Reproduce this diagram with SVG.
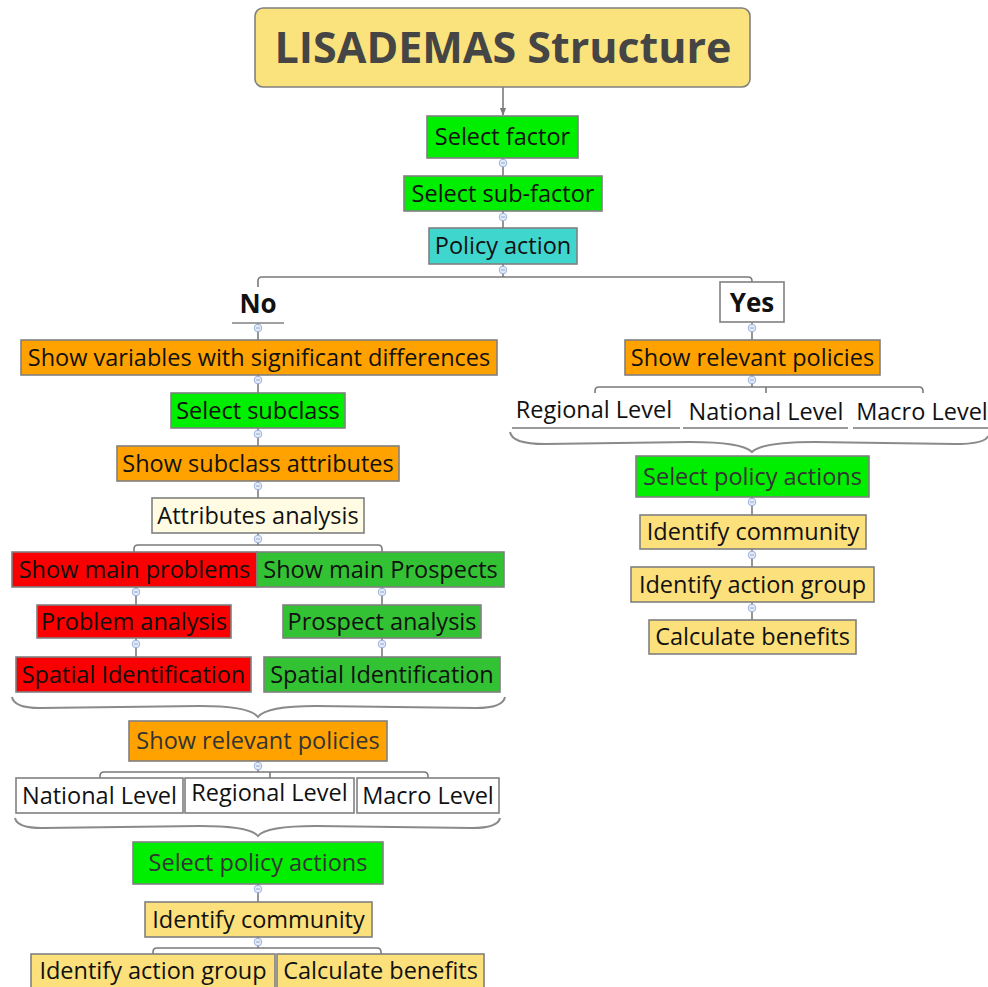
<svg xmlns="http://www.w3.org/2000/svg" xmlns:xlink="http://www.w3.org/1999/xlink" width="988" height="987" viewBox="0 0 988 987">
<defs>
<style>
.b{stroke:#808080;stroke-width:1.6}
.t{font-family:"Open Sans","Noto Sans","DejaVu Sans",sans-serif;font-size:23.5px;fill:#111;text-anchor:middle}
.bold{font-weight:bold;font-size:26px}
.c{fill:none;stroke:#7a7a7a;stroke-width:1.6}
.br{fill:none;stroke:#8a8a8a;stroke-width:2}
.g1{fill:#00EE00}.or{fill:#FFA200}.cy{fill:#3FD6CE}.rd{fill:#FA0000}.g2{fill:#33C233}.ye{fill:#FBE07B}.cr{fill:#FFFCE3}.wh{fill:#fff}
</style>
<marker id="arr" viewBox="0 0 10 10" refX="9" refY="5" markerWidth="8" markerHeight="10" markerUnits="userSpaceOnUse" orient="auto"><path d="M0,1 L10,5 L0,9 z" fill="#7a7a7a"/></marker>
<symbol id="knob" viewBox="-5 -5 10 10" overflow="visible"><circle r="3.8" fill="#e3ebf8" stroke="#9bb2dc" stroke-width="1"/><line x1="-2" y1="0" x2="2" y2="0" stroke="#7d94c4" stroke-width="0.8"/></symbol>
</defs>
<rect width="988" height="987" fill="#fff"/>

<g id="connectors">
<line class="c" x1="503" y1="87" x2="503" y2="115" marker-end="url(#arr)"/>
<line class="c" x1="503" y1="158" x2="503" y2="176"/>
<line class="c" x1="503" y1="211" x2="503" y2="228"/>
<path class="c" d="M503,264 V277 M258,287 V281 Q258,277 262,277 H748 Q752,277 752,281 V282"/>
<line class="c" x1="258" y1="323" x2="258" y2="340"/>
<line class="c" x1="752" y1="322" x2="752" y2="340"/>
<line class="c" x1="258" y1="375" x2="258" y2="393"/>
<line class="c" x1="258" y1="428" x2="258" y2="446"/>
<line class="c" x1="258" y1="481" x2="258" y2="498"/>
<path class="c" d="M258,533 V545 M134,552 V549 Q134,545 138,545 H378 Q382,545 382,549 V552"/>
<line class="c" x1="136" y1="587" x2="136" y2="605"/>
<line class="c" x1="382" y1="587" x2="382" y2="605"/>
<line class="c" x1="136" y1="638" x2="136" y2="657"/>
<line class="c" x1="382" y1="638" x2="382" y2="657"/>
<path class="br" d="M12,697 Q14,708 40,708 L200,706 Q250,706 258,717 Q266,706 316,706 L476,708 Q503,708 505,697"/>
<path class="c" d="M258,761 V772 M100,778 V776 Q100,772 104,772 H424 Q428,772 428,776 V778 M270,772 V778"/>
<path class="br" d="M15,818 Q17,828 42,828 L200,826 Q250,826 258,836 Q266,826 316,826 L472,828 Q498,828 500,818"/>
<line class="c" x1="258" y1="884" x2="258" y2="902"/>
<path class="c" d="M258,937 V948 M153,954 V952 Q153,948 157,948 H377 Q381,948 381,952 V954"/>
<path class="c" d="M752,375 V387 M595,393 V391 Q595,387 599,387 H919 Q923,387 923,391 V393 M766,387 V393"/>
<path class="c" d="M512,428 H680 M683,428 H848 M853,428 H988"/>
<path class="br" d="M510,432 Q512,444 545,444 L690,442 Q742,442 752,452 Q762,442 814,442 L955,444 Q985,444 988,436"/>
<line class="c" x1="752" y1="497" x2="752" y2="515"/>
<line class="c" x1="752" y1="549" x2="752" y2="567"/>
<line class="c" x1="752" y1="602" x2="752" y2="620"/>
<use href="#knob" x="498" y="158" width="10" height="10"/>
<use href="#knob" x="498" y="212" width="10" height="10"/>
<use href="#knob" x="498" y="265" width="10" height="10"/>
<use href="#knob" x="253" y="323" width="10" height="10"/>
<use href="#knob" x="747" y="323" width="10" height="10"/>
<use href="#knob" x="253" y="375" width="10" height="10"/>
<use href="#knob" x="253" y="429" width="10" height="10"/>
<use href="#knob" x="253" y="481" width="10" height="10"/>
<use href="#knob" x="253" y="534" width="10" height="10"/>
<use href="#knob" x="131" y="587" width="10" height="10"/>
<use href="#knob" x="377" y="587" width="10" height="10"/>
<use href="#knob" x="131" y="639" width="10" height="10"/>
<use href="#knob" x="377" y="639" width="10" height="10"/>
<use href="#knob" x="253" y="761" width="10" height="10"/>
<use href="#knob" x="253" y="884" width="10" height="10"/>
<use href="#knob" x="253" y="937" width="10" height="10"/>
<use href="#knob" x="747" y="375" width="10" height="10"/>
<use href="#knob" x="747" y="497" width="10" height="10"/>
<use href="#knob" x="747" y="550" width="10" height="10"/>
<use href="#knob" x="747" y="603" width="10" height="10"/>
</g>

<g id="title"><rect class="b" x="255" y="8" width="495" height="79" rx="8" fill="#FAE27C" stroke-width="2"/><text x="503" y="63" style="font-family:'Open Sans','Noto Sans',sans-serif;font-weight:bold;font-size:43px;fill:#454545;text-anchor:middle">LISADEMAS Structure</text></g>
<g id="select-factor"><rect class="b g1" x="427" y="116" width="151" height="42"/><text class="t" x="502.5" y="145">Select factor</text></g>
<g id="select-subfactor"><rect class="b g1" x="404" y="176" width="198" height="35"/><text class="t" x="503" y="201.5">Select sub-factor</text></g>
<g id="policy-action"><rect class="b cy" x="429" y="228" width="148" height="36"/><text class="t" x="503" y="254">Policy action</text></g>
<g id="no"><text class="t bold" x="258" y="313">No</text><line x1="232" y1="323" x2="284" y2="323" stroke="#808080" stroke-width="1.6"/></g>
<g id="yes"><rect class="b wh" x="720" y="282" width="64" height="40" stroke-width="2"/><text class="t bold" x="752" y="312">Yes</text></g>

<g id="show-variables"><rect class="b or" x="21" y="340" width="476" height="35"/><text class="t" x="259" y="365.5">Show variables with significant differences</text></g>
<g id="select-subclass"><rect class="b g1" x="171" y="393" width="174" height="35"/><text class="t" x="258" y="418.5">Select subclass</text></g>
<g id="show-subclass-attributes"><rect class="b or" x="117" y="446" width="282" height="35"/><text class="t" x="258" y="471.5">Show subclass attributes</text></g>
<g id="attributes-analysis"><rect class="b cr" x="152" y="498" width="212" height="35"/><text class="t" x="258" y="523.5">Attributes analysis</text></g>
<g id="show-main-problems"><rect class="b rd" x="12" y="552" width="245" height="35"/><text class="t" x="134.5" y="577.5">Show main problems</text></g>
<g id="show-main-prospects"><rect class="b g2" x="257" y="552" width="247" height="35"/><text class="t" x="380.5" y="577.5">Show main Prospects</text></g>
<g id="problem-analysis"><rect class="b rd" x="37" y="605" width="194" height="33"/><text class="t" x="134" y="629.5">Problem analysis</text></g>
<g id="prospect-analysis"><rect class="b g2" x="283" y="605" width="198" height="33"/><text class="t" x="382" y="629.5">Prospect analysis</text></g>
<g id="spatial-identification-1"><rect class="b rd" x="16" y="657" width="235" height="35"/><text class="t" x="133.5" y="682.5">Spatial Identification</text></g>
<g id="spatial-identification-2"><rect class="b g2" x="264" y="657" width="236" height="35"/><text class="t" x="382" y="682.5">Spatial Identification</text></g>
<g id="show-relevant-policies-1"><rect class="b or" x="129" y="721" width="258" height="40"/><text class="t" x="258" y="749" style="fill:#333">Show relevant policies</text></g>
<g id="national-level-1"><rect class="b wh" x="16" y="778" width="167" height="35"/><text class="t" x="99.5" y="803.5">National Level</text></g>
<g id="regional-level-1"><rect class="b wh" x="185" y="778" width="169" height="35"/><text class="t" x="269.5" y="801">Regional Level</text></g>
<g id="macro-level-1"><rect class="b wh" x="357" y="778" width="142" height="35"/><text class="t" x="428" y="803.5">Macro Level</text></g>
<g id="select-policy-actions-1"><rect class="b g1" x="133" y="842" width="250" height="42"/><text class="t" x="258" y="871" style="fill:#333">Select policy actions</text></g>
<g id="identify-community-1"><rect class="b ye" x="145" y="902" width="227" height="35"/><text class="t" x="258.5" y="927.5">Identify community</text></g>
<g id="identify-action-group-1"><rect class="b ye" x="31" y="954" width="244" height="34"/><text class="t" x="153" y="979">Identify action group</text></g>
<g id="calculate-benefits-1"><rect class="b ye" x="277" y="954" width="207" height="34"/><text class="t" x="380.5" y="979">Calculate benefits</text></g>

<g id="show-relevant-policies-2"><rect class="b or" x="625" y="340" width="255" height="35"/><text class="t" x="752.5" y="365.5">Show relevant policies</text></g>
<g id="regional-level-2"><text class="t" x="594" y="418">Regional Level</text></g>
<g id="national-level-2"><text class="t" x="766" y="420">National Level</text></g>
<g id="macro-level-2"><text class="t" x="922" y="420">Macro Level</text></g>
<g id="select-policy-actions-2"><rect class="b g1" x="636" y="456" width="233" height="41"/><text class="t" x="752.5" y="484.5" style="fill:#333">Select policy actions</text></g>
<g id="identify-community-2"><rect class="b ye" x="640" y="515" width="226" height="34"/><text class="t" x="753" y="540">Identify community</text></g>
<g id="identify-action-group-2"><rect class="b ye" x="631" y="567" width="243" height="35"/><text class="t" x="752.5" y="592.5">Identify action group</text></g>
<g id="calculate-benefits-2"><rect class="b ye" x="649" y="620" width="207" height="34"/><text class="t" x="752.5" y="645">Calculate benefits</text></g>
</svg>
